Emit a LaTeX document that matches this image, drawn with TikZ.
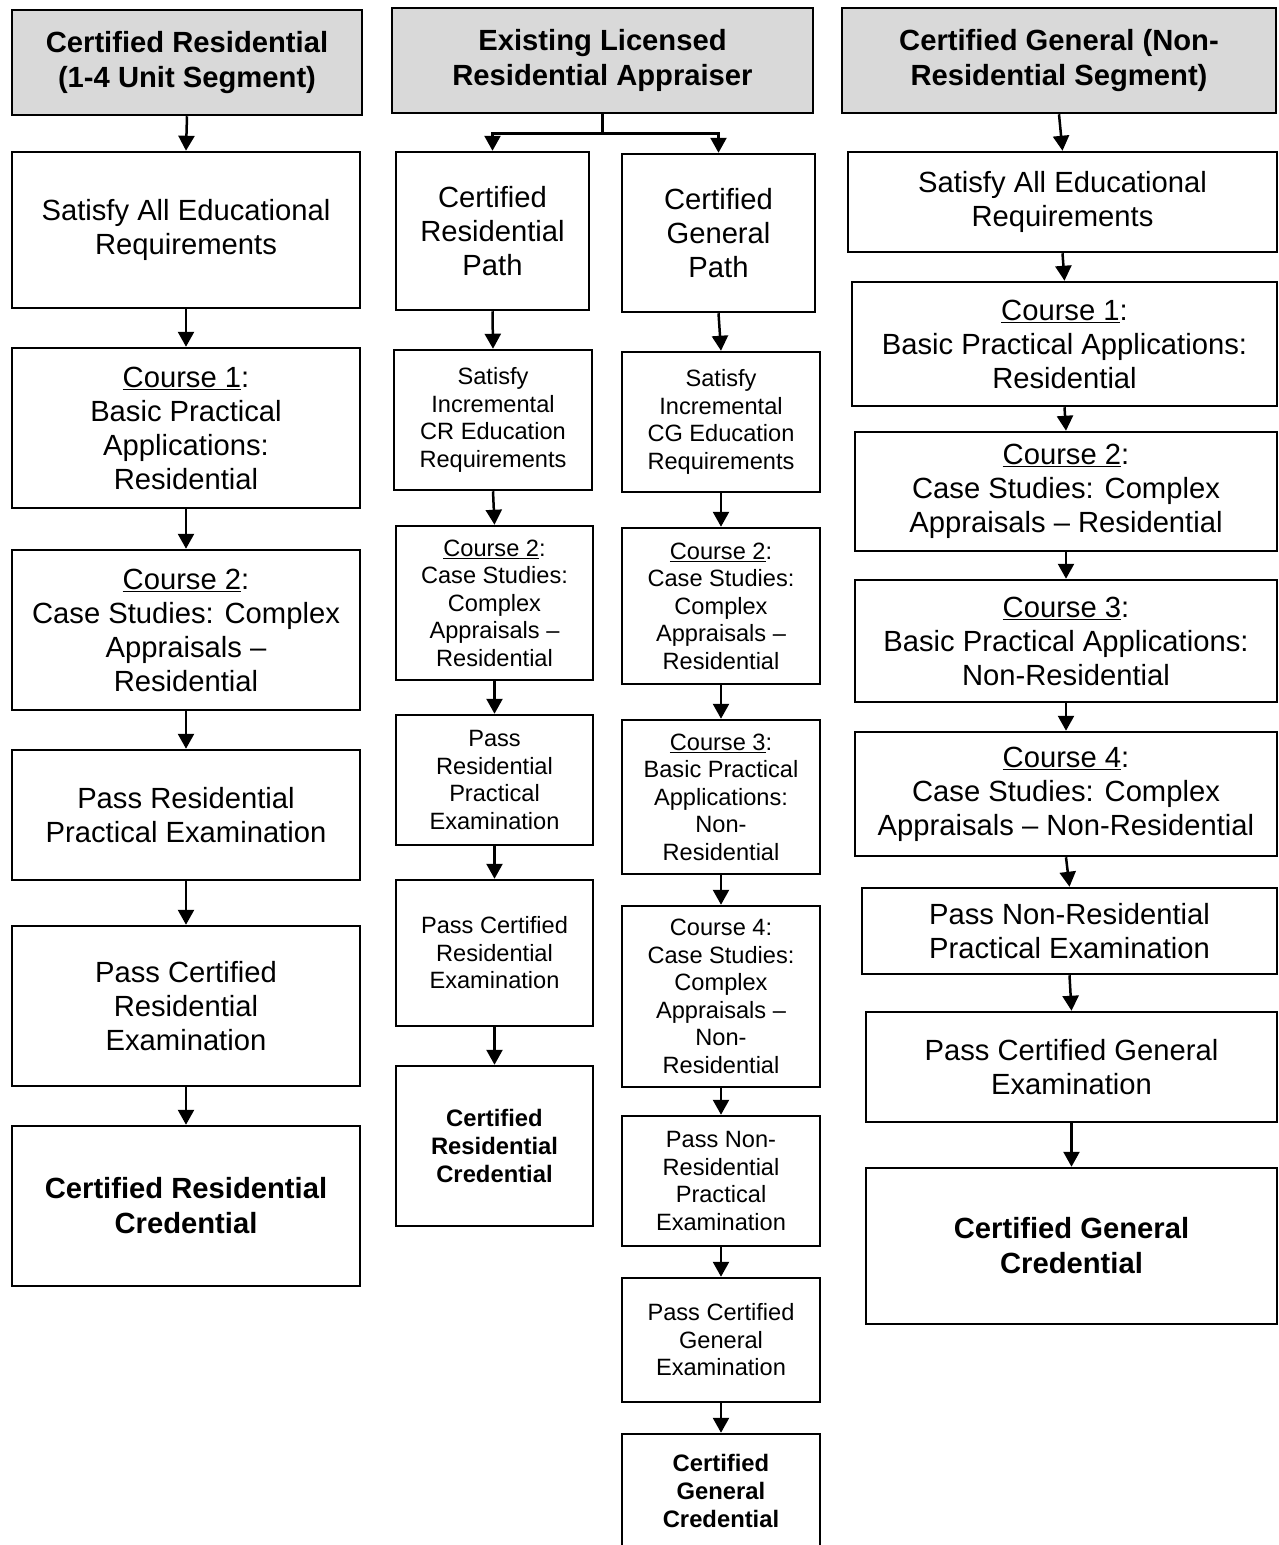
\documentclass[tikz,border=0pt]{standalone}
\usepackage{fontspec}
\setmainfont{Liberation Sans}
\usetikzlibrary{arrows.meta, positioning}
\definecolor{headgray}{RGB}{217, 217, 217}
\tikzset{
  basenode/.style={draw, line width=2.5pt, align=center, inner sep=0pt, fill=white},
  headnode/.style={basenode, fill=headgray, font=\fontsize{29.2}{35}\selectfont\bfseries},
  bignode/.style={basenode, font=\fontsize{29.2}{34}\selectfont},
  smallnode/.style={basenode, font=\fontsize{23.6}{27.5}\selectfont},
  credbig/.style={basenode, font=\fontsize{29.2}{35}\selectfont\bfseries},
  credsmall/.style={basenode, font=\fontsize{23.8}{28}\selectfont\bfseries},
  flowarrow/.style={-{Triangle[length=15pt, width=16pt]}, line width=2.5pt},
}

\begin{document}
\begin{tikzpicture}[x=1pt, y=-1pt]
  \useasboundingbox (0,0) rectangle (1278,1545);
  % headers
  \node[headnode, minimum width=350pt, minimum height=105pt] (h1) at (187,62.5) {Certified Residential\\(1-4 Unit Segment)};
  \node[headnode, minimum width=421pt, minimum height=105pt] (h2) at (602.5,60.5) {Existing Licensed\\Residential Appraiser};
  \node[headnode, minimum width=434pt, minimum height=105pt] (h3) at (1059,60.5) {Certified General (Non-\\Residential Segment)};

  % left column
  \node[bignode, minimum width=348pt, minimum height=156pt] (l1) at (186,230) {Satisfy All Educational\\Requirements};
  \node[bignode, minimum width=348pt, minimum height=160pt] (l2) at (186,428) {\underline{Course 1}:\\Basic Practical\\Applications:\\Residential};
  \node[bignode, minimum width=348pt, minimum height=160pt] (l3) at (186,630) {\underline{Course 2}:\\Case Studies: Complex\\Appraisals --\\Residential};
  \node[bignode, minimum width=348pt, minimum height=130pt] (l4) at (186,815) {Pass Residential\\Practical Examination};
  \node[bignode, minimum width=348pt, minimum height=160pt] (l5) at (186,1006) {Pass Certified\\Residential\\Examination};
  \node[credbig, minimum width=348pt, minimum height=160pt] (l6) at (186,1206) {Certified Residential\\Credential};

  % middle column, residential path
  \node[bignode, minimum width=193pt, minimum height=158pt] (m1) at (492.5,231) {Certified\\Residential\\Path};
  \node[smallnode, minimum width=198pt, minimum height=140pt] (m2) at (493,420) {Satisfy\\Incremental\\CR Education\\Requirements};
  \node[smallnode, minimum width=197pt, minimum height=154pt] (m3) at (494.5,603) {\underline{Course 2}:\\Case Studies:\\Complex\\Appraisals --\\Residential};
  \node[smallnode, minimum width=197pt, minimum height=130pt] (m4) at (494.5,780) {Pass\\Residential\\Practical\\Examination};
  \node[smallnode, minimum width=197pt, minimum height=146pt] (m5) at (494.5,953) {Pass Certified\\Residential\\Examination};
  \node[credsmall, minimum width=197pt, minimum height=160pt] (m6) at (494.5,1146) {Certified\\Residential\\Credential};

  % middle column, general path
  \node[bignode, minimum width=193pt, minimum height=158pt] (r1) at (718.5,233) {Certified\\General\\Path};
  \node[smallnode, minimum width=198pt, minimum height=140pt] (r2) at (721,422) {Satisfy\\Incremental\\CG Education\\Requirements};
  \node[smallnode, minimum width=198pt, minimum height=156pt] (r3) at (721,606) {\underline{Course 2}:\\Case Studies:\\Complex\\Appraisals --\\Residential};
  \node[smallnode, minimum width=198pt, minimum height=154pt] (r4) at (721,797) {\underline{Course 3}:\\Basic Practical\\Applications:\\Non-\\Residential};
  \node[smallnode, minimum width=198pt, minimum height=181pt] (r5) at (721,996.5) {Course 4:\\Case Studies:\\Complex\\Appraisals --\\Non-\\Residential};
  \node[smallnode, minimum width=198pt, minimum height=130pt] (r6) at (721,1181) {Pass Non-\\Residential\\Practical\\Examination};
  \node[smallnode, minimum width=198pt, minimum height=124pt] (r7) at (721,1340) {Pass Certified\\General\\Examination};
  \node[credsmall, minimum width=198pt, minimum height=114pt] (r8) at (721,1491) {Certified\\General\\Credential};

  % right column
  \node[bignode, minimum width=429pt, minimum height=100pt] (g1) at (1062.5,202) {Satisfy All Educational\\Requirements};
  \node[bignode, minimum width=425pt, minimum height=124pt] (g2) at (1064.5,344) {\underline{Course 1}:\\Basic Practical Applications:\\Residential};
  \node[bignode, minimum width=422pt, minimum height=119pt] (g3) at (1066,491.5) {\underline{Course 2}:\\Case Studies: Complex\\Appraisals -- Residential};
  \node[bignode, minimum width=422pt, minimum height=122pt] (g4) at (1066,641) {\underline{Course 3}:\\Basic Practical Applications:\\Non-Residential};
  \node[bignode, minimum width=422pt, minimum height=124pt] (g5) at (1066,794) {\underline{Course 4}:\\Case Studies: Complex\\Appraisals -- Non-Residential};
  \node[bignode, minimum width=415pt, minimum height=86pt] (g6) at (1069.5,931) {Pass Non-Residential\\Practical Examination};
  \node[bignode, minimum width=411pt, minimum height=110pt] (g7) at (1071.5,1067) {Pass Certified General\\Examination};
  \node[credbig, minimum width=411pt, minimum height=156pt] (g8) at (1071.5,1246) {Certified General\\Credential};

  % connectors
  \foreach \i/\j in {h1/l1,l1/l2,l2/l3,l3/l4,l4/l5,l5/l6,
                     m1/m2,m2/m3,m3/m4,m4/m5,m5/m6,
                     r1/r2,r2/r3,r3/r4,r4/r5,r5/r6,r6/r7,r7/r8,
                     h3/g1,g1/g2,g2/g3,g3/g4,g4/g5,g5/g6,g6/g7,g7/g8}
    \draw[flowarrow] (\i.south) -- (\j.north);
  \draw[flowarrow] (h2.south) -- ++(0,19) -| (m1.north);
  \draw[flowarrow] (h2.south) -- ++(0,19) -| (r1.north);
\end{tikzpicture}
\end{document}
